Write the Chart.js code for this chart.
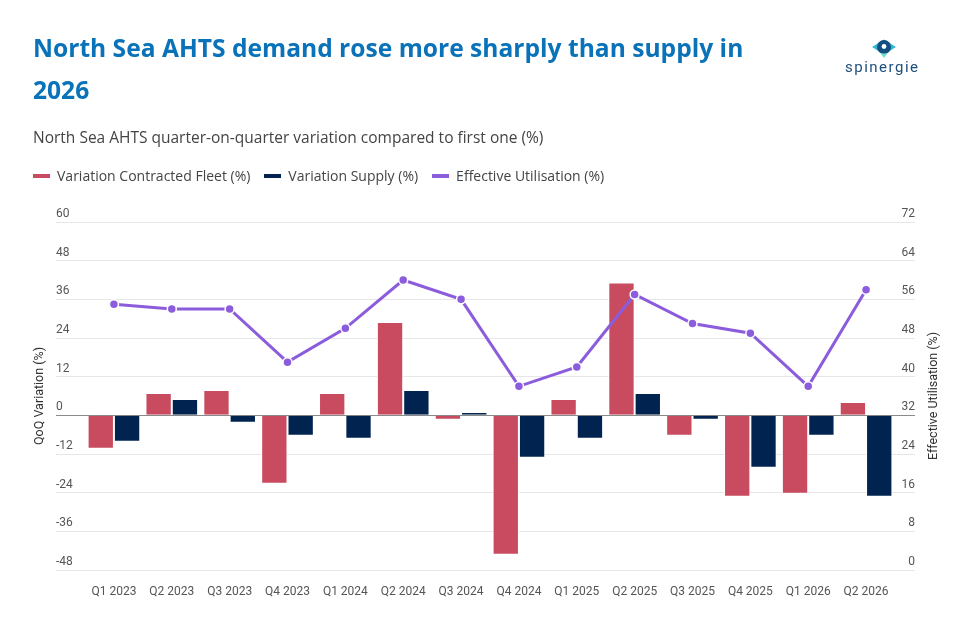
<!DOCTYPE html>
<html>
<head>
<meta charset="utf-8">
<script src="https://cdn.jsdelivr.net/npm/chart.js@4.4.1/dist/chart.umd.min.js"></script>
<style>
  html, body { margin: 0; padding: 0; background: #fff; }
  body { width: 971px; height: 622px; position: relative; overflow: hidden; font-family: "Open Sans", sans-serif; }
  #chart { position: absolute; left: 0; top: 0; }
  .title { position: absolute; left: 33px; top: 27px; font-weight: 700; font-size: 24.6px; line-height: 42px; color: #0A72B8; white-space: nowrap; }
  .subtitle { position: absolute; left: 33px; top: 127px; font-size: 15.5px; line-height: 20px; color: #444; white-space: nowrap; }
  .legend { position: absolute; left: 33px; top: 167px; display: flex; font-size: 14px; line-height: 18px; color: #444; white-space: nowrap; }
  .legend .item { display: flex; align-items: center; margin-right: 14px; }
  .legend i { display: inline-block; width: 17px; height: 4px; margin-right: 7px; }
  .logo-icon { position: absolute; left: 872px; top: 39px; }
  .logo-word { position: absolute; left: 845px; top: 58px; font-family: Roboto, sans-serif; font-size: 15px; line-height: 18px;
               letter-spacing: 1.5px; color: #1E4E7C; white-space: nowrap; }
  .ytitle-right { position: absolute; left: 933px; top: 396px; width: 200px; margin-left: -100px; margin-top: -9px;
                  text-align: center; font-family: Roboto, sans-serif; font-size: 12.5px; line-height: 18px; color: #333;
                  transform: rotate(-90deg); white-space: nowrap; }
</style>
</head>
<body>
<canvas id="chart" width="971" height="622"></canvas>
<div class="title">North Sea AHTS demand rose more sharply than supply in<br>2026</div>
<div class="subtitle">North Sea AHTS quarter-on-quarter variation compared to first one (%)</div>
<div class="legend" id="legend"></div>
<div class="ytitle-right">Effective Utilisation (%)</div>
<svg class="logo-icon" width="24" height="20" viewBox="0 0 24 20">
  <path d="M0 8 L12 0.5 L24 8 L12 15.5 Z" fill="#2FB8D8"/>
  <circle cx="12" cy="8" r="7" fill="#13507F"/>
  <circle cx="12" cy="7.5" r="2.4" fill="#fff"/>
  <path d="M8.5 14.5 L15.5 14.5 L12 19 Z" fill="#6FE3CF"/>
</svg>
<div class="logo-word">spinergie</div>
<script>
var quarters = ['Q1 2023', 'Q2 2023', 'Q3 2023', 'Q4 2023', 'Q1 2024', 'Q2 2024', 'Q3 2024',
                'Q4 2024', 'Q1 2025', 'Q2 2025', 'Q3 2025', 'Q4 2025', 'Q1 2026', 'Q2 2026'];
var contractedFleet = [-10.4, 6.9, 7.9, -21.2, 6.9, 29.0, -1.4, -43.3, 5.1, 41.2, -6.3, -25.3, -24.3, 4.1];
var supplyVariation = [-8.2, 5.1, -2.3, -6.3, -7.3, 7.9, 1.0, -13.2, -7.3, 6.9, -1.4, -16.3, -6.3, -25.3];
var utilisation = [55, 54, 54, 43, 50, 60, 56, 38, 42, 57, 51, 49, 38, 58];

var qoqRange = [-48, 60, 12];   // min, max, step
var utilRange = [0, 72, 8];

var RED = '#C84B5F', NAVY = '#002350', PURPLE = '#8B5CDB';
var GRID = '#e6e6e6', ZERO = '#8a8a8a';
var tickFont = { family: 'Roboto', size: 12 };

var ctx = document.getElementById('chart');
var chart = new Chart(ctx, {
  data: {
    labels: quarters,
    datasets: [
      {
        type: 'line',
        label: 'Effective Utilisation (%)',
        data: utilisation,
        yAxisID: 'y1',
        order: 0,
        borderColor: PURPLE,
        backgroundColor: PURPLE,
        borderWidth: 3,
        tension: 0,
        pointRadius: 4.5,
        pointBackgroundColor: PURPLE,
        pointBorderColor: '#fff',
        pointBorderWidth: 1.5
      },
      {
        type: 'bar',
        label: 'Variation Contracted Fleet (%)',
        data: contractedFleet,
        yAxisID: 'y',
        order: 1,
        backgroundColor: RED,
        borderColor: '#fff',
        borderWidth: 1,
        borderSkipped: 'start',
        barPercentage: 1,
        categoryPercentage: 0.91
      },
      {
        type: 'bar',
        label: 'Variation Supply (%)',
        data: supplyVariation,
        yAxisID: 'y',
        order: 1,
        backgroundColor: NAVY,
        borderColor: '#fff',
        borderWidth: 1,
        borderSkipped: 'start',
        barPercentage: 1,
        categoryPercentage: 0.91
      }
    ]
  },
  options: {
    responsive: false,
    animation: false,
    devicePixelRatio: 1,
    layout: { padding: { top: 222, left: 28, right: 27, bottom: 22 } },
    plugins: {
      legend: { display: false },
      tooltip: { enabled: false }
    },
    scales: {
      x: {
        grid: { display: false },
        border: { display: false },
        ticks: { color: '#555', font: tickFont, padding: 7, maxRotation: 0, autoSkip: false },
        afterFit: function(s){ s.height = 30; }
      },
      y: {
        position: 'left',
        min: qoqRange[0], max: qoqRange[1],
        ticks: { stepSize: qoqRange[2], mirror: true, padding: -29, labelOffset: -8, color: '#555', font: tickFont },
        grid: {
          tickLength: 29,
          color: function(c){ return c.tick && c.tick.value === 0 ? ZERO : GRID; }
        },
        border: { display: false },
        title: { display: true, text: 'QoQ Variation (%)', color: '#333', font: { family: 'Roboto', size: 12.5 } },
        afterFit: function(s){ s.width = 57; }
      },
      y1: {
        position: 'right',
        min: utilRange[0], max: utilRange[1],
        ticks: { stepSize: utilRange[2], mirror: true, padding: 20, labelOffset: -8, color: '#555', font: tickFont },
        grid: {
          drawOnChartArea: false,
          tickLength: 20,
          color: function(c){ return c.tick && c.tick.value === 32 ? ZERO : GRID; }
        },
        border: { display: false },
        title: { display: false },
        afterFit: function(s){ s.width = 49; }
      }
    }
  }
});

// html legend, in the same order as the reference
var legendItems = [chart.data.datasets[1], chart.data.datasets[2], chart.data.datasets[0]];
var legendEl = document.getElementById('legend');
legendItems.forEach(function(ds){
  var item = document.createElement('span');
  item.className = 'item';
  item.innerHTML = '<i style="background:' + ds.backgroundColor + '"></i>' + ds.label;
  legendEl.appendChild(item);
});
</script>
</body>
</html>
